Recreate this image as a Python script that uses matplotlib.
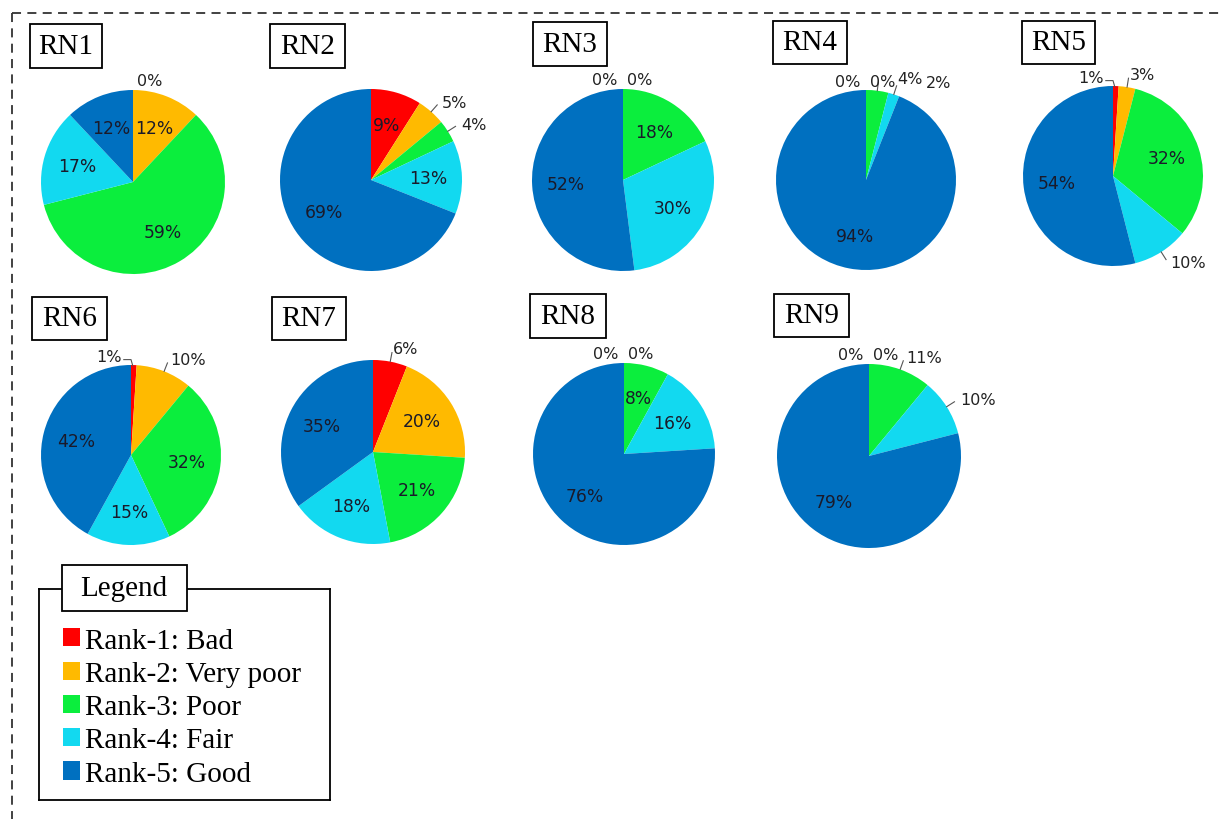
import matplotlib
matplotlib.use("Agg")
import matplotlib.pyplot as plt
from matplotlib.patches import Rectangle, Patch
from matplotlib.lines import Line2D
import numpy as np

# datos: porcentaje de cada rank por estacion
ranks = ["Rank-1: Bad", "Rank-2: Very poor", "Rank-3: Poor", "Rank-4: Fair", "Rank-5: Good"]
cores = ["#FF0000", "#FFBA00", "#0BEE3D", "#12D9F0", "#0070C0"]

estacoes = ["RN1", "RN2", "RN3", "RN4", "RN5", "RN6", "RN7", "RN8", "RN9"]
rn1 = [0, 12, 59, 17, 12]
rn2 = [9, 5, 4, 13, 69]
rn3 = [0, 0, 18, 30, 52]
rn4 = [0, 0, 4, 2, 94]
rn5 = [1, 3, 32, 10, 54]
rn6 = [1, 10, 32, 15, 42]
rn7 = [6, 20, 21, 18, 35]
rn8 = [0, 0, 8, 16, 76]
rn9 = [0, 0, 11, 10, 79]
valores = [rn1, rn2, rn3, rn4, rn5, rn6, rn7, rn8, rn9]

# layout (pixels)
W, H = 1224, 820
centros = [(133, 183, 92), (371, 181, 91), (623, 181, 91), (866, 181, 90), (1113, 177, 90),
           (131, 456, 90), (373, 453, 92), (624, 455, 91), (869, 457, 92)]
caixas = [(30, 25, 102, 69), (270, 25, 345, 69), (533, 23, 607, 67), (773, 22, 847, 65),
          (1022, 22, 1095, 65), (32, 298, 107, 341), (272, 298, 346, 341), (530, 295, 606, 339),
          (774, 295, 849, 338)]
# fatias com rotulo fora da pizza
fora = [[0], [1, 2], [0, 1], [0, 1, 2, 3], [0, 1, 3], [0, 1], [0], [0, 1], [0, 1, 2, 3]]

fig = plt.figure(figsize=(W / 100, H / 100), dpi=100)


def fx(x):
    return x / W


def fy(y):
    return 1 - y / H


def bate(caixa, lista):
    for c in lista:
        if caixa[0] < c[1] and caixa[1] > c[0] and caixa[2] < c[3] and caixa[3] > c[2]:
            return True
    return False


# borda tracejada
fig.add_artist(Line2D([fx(12), fx(W)], [fy(14), fy(14)], color="#333333", lw=1.3,
                      dashes=(5, 3.5), transform=fig.transFigure))
fig.add_artist(Line2D([fx(12), fx(12)], [fy(14), fy(H)], color="#333333", lw=1.3,
                      dashes=(5, 3.5), transform=fig.transFigure))

for k in range(len(estacoes)):
    cx, cy, r = centros[k]
    ax = fig.add_axes([fx(cx - r), fy(cy + r), 2 * r / W, 2 * r / H])
    vals = valores[k]
    ax.pie(vals, colors=cores, startangle=90, counterclock=False, radius=1,
           wedgeprops=dict(linewidth=0))
    ax.set_xlim(-1, 1)
    ax.set_ylim(-1, 1)
    ax.set_aspect("equal")
    ax.axis("off")

    tot = float(sum(vals))
    acum = 0.0
    zeros = [i for i, v in enumerate(vals) if v == 0]
    colocados = []
    for i, v in enumerate(vals):
        ang = np.deg2rad(90 - 360 * (acum + v / 2) / tot)
        acum += v
        txt = f"{v}%"
        if i in fora[k]:
            larg = len(txt) * 12.5 / r
            alt = 16.0 / r
            if v == 0:
                if len(zeros) == 2:
                    ha = "right" if i == zeros[0] else "left"
                    x = -0.06 if ha == "right" else 0.04
                else:
                    ha, x = "left", 0.04
                y = 1.1
            else:
                c, s = np.cos(ang), np.sin(ang)
                if i == 0 and c < 0.15:
                    ha, x, y = "right", -0.1, 1.1
                    ax.plot([-0.08, 0.0, 0.02], [1.06, 1.06, 0.99], color="#555555", lw=0.8,
                            clip_on=False)
                else:
                    x, y = 1.18 * c, 1.14 * s
                    ha = "left" if c > 0.1 else ("right" if c < -0.1 else "center")
                    ax.plot([c, 1.1 * c], [s, 1.1 * s], color="#555555", lw=0.8, clip_on=False)
            # empurra para o lado se bater em outro rotulo
            while True:
                x0 = x if ha == "left" else (x - larg if ha == "right" else x - larg / 2)
                caixa = (x0, x0 + larg, y - alt / 2, y + alt / 2)
                if not bate(caixa, colocados):
                    break
                x += 0.05 if ha != "right" else -0.05
            colocados.append(caixa)
            ax.text(x, y, txt, ha=ha, va="center", fontsize=11.5, color="#222222", clip_on=False)
        else:
            ax.text(0.63 * np.cos(ang), 0.63 * np.sin(ang), txt, ha="center", va="center",
                    fontsize=12.3, color="#1a1a2a")

    x0, y0, x1, y1 = caixas[k]
    fig.add_artist(Rectangle((fx(x0), fy(y1)), fx(x1 - x0), (y1 - y0) / H, fill=False,
                             edgecolor="black", lw=1.3, transform=fig.transFigure))
    fig.text(fx((x0 + x1) / 2), fy((y0 + y1) / 2), estacoes[k], ha="center", va="center",
             fontsize=21, family="Liberation Serif")

# legenda
lax = fig.add_axes([fx(39), fy(801), fx(330 - 39), (801 - 590) / H])
lax.set_xticks([])
lax.set_yticks([])
for s in lax.spines.values():
    s.set_linewidth(1.3)
handles = [Patch(facecolor=c, edgecolor="none") for c in cores]
fig.legend(handles, ranks, loc="upper left", bbox_to_anchor=(fx(48), fy(614)),
           frameon=False, borderpad=0, prop={"family": "Liberation Serif", "size": 21},
           handlelength=0.58, handleheight=0.58, handletextpad=0.2, labelspacing=0.25)
fig.add_artist(Rectangle((fx(62), fy(612)), fx(187 - 62), (612 - 566) / H, facecolor="white",
                         edgecolor="black", lw=1.3, transform=fig.transFigure, zorder=5))
fig.text(fx(124), fy(589), "Legend", ha="center", va="center", fontsize=21,
         family="Liberation Serif", zorder=6)

fig.savefig("out.png", dpi=100)
